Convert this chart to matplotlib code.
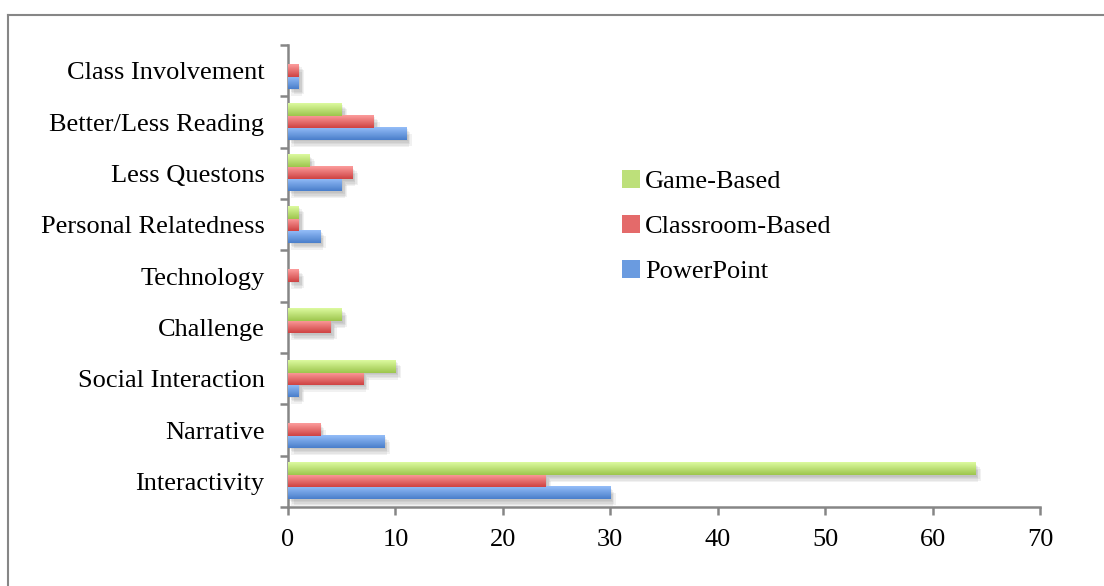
import matplotlib.pyplot as plt
import matplotlib.patheffects as pe
from matplotlib.lines import Line2D
from matplotlib.patches import Rectangle
from matplotlib.colors import to_rgb
import numpy as np

plt.rcParams['font.family'] = ['Liberation Serif', 'DejaVu Serif']

# categories listed bottom to top
categories = ["Interactivity", "Narrative", "Social Interaction", "Challenge",
              "Technology", "Personal Relatedness", "Less Questons",
              "Better/Less Reading", "Class Involvement"]
powerpoint = [30, 9, 1, 0, 0, 3, 5, 11, 1]
classroom = [24, 3, 7, 4, 1, 1, 6, 8, 1]
game = [64, 0, 10, 5, 0, 1, 2, 5, 0]

series = [
    ("PowerPoint", powerpoint, "#94bdf8", "#4a7fcb", "#6a9be0"),
    ("Classroom-Based", classroom, "#fc9c9c", "#cf4343", "#e46a6a"),
    ("Game-Based", game, "#dcfa9e", "#9dc64e", "#bde07a"),
]

fig = plt.figure(figsize=(11.04, 5.86), dpi=100)
ax = fig.add_axes([0.2609, 0.1348, 0.942 - 0.2609, 0.9232 - 0.1348])

bar_h = 0.235
y = np.arange(len(categories))
offsets = [-bar_h, 0, bar_h]

# soft drop shadow built from a few faint offset copies
shadow = [pe.SimplePatchShadow(offset=o, alpha=0.07, shadow_rgbFace='#444444')
          for o in [(1, -1), (2, -2), (3, -3), (4, -4), (2, -5)]]

proxies = []
for (name, vals, top, bot, mid), off in zip(series, offsets):
    ax.barh(y + off, vals, height=bar_h, color=mid, zorder=2,
            path_effects=shadow + [pe.Normal()])
    # vertical gradient on each bar: light on top, dark at bottom
    c0 = np.array(to_rgb(top))
    c1 = np.array(to_rgb(bot))
    t = np.linspace(0, 1, 24)[:, None]
    grad = (c0 * (1 - t) + c1 * t)[:, None, :]
    for yi, v in zip(y + off, vals):
        if v > 0:
            ax.imshow(grad, extent=[0, v, yi - bar_h / 2, yi + bar_h / 2],
                      aspect='auto', origin='upper', zorder=3,
                      interpolation='bilinear')
    proxies.append((Rectangle((0, 0), 1, 1, facecolor=mid, edgecolor='none'), name))

ax.set_xlim(0, 70)
ax.set_ylim(-0.5, len(categories) - 0.5)
ax.set_xticks(range(0, 71, 10))
ax.set_yticks(y)
ax.set_yticklabels(categories)
ax.set_yticks(np.arange(-0.5, len(categories)), minor=True)

grey = "#868686"
for s in ("top", "right"):
    ax.spines[s].set_visible(False)
for s in ("left", "bottom"):
    ax.spines[s].set_color(grey)
    ax.spines[s].set_linewidth(1.8)

ax.tick_params(axis='y', which='major', length=0, pad=17, labelsize=19)
ax.tick_params(axis='y', which='minor', length=6, width=1.8, color=grey)
ax.tick_params(axis='x', which='major', length=6, width=1.8, color=grey,
               pad=9.5, labelsize=19)

# legend, top entry first
ax.legend([p[0] for p in proxies[::-1]], [p[1] for p in proxies[::-1]],
          loc='center left', bbox_to_anchor=(0.444, 0.607),
          frameon=False, fontsize=19, borderpad=0, borderaxespad=0,
          handlelength=0.68, handleheight=0.68, handletextpad=0.2,
          labelspacing=0.82)

# outer chart frame
fig.add_artist(Line2D([0.0072, 0.0072], [0, 0.974], color=grey, lw=1.5,
                      transform=fig.transFigure))
fig.add_artist(Line2D([0.0072, 1.0], [0.974, 0.974], color=grey, lw=1.5,
                      transform=fig.transFigure))

fig.savefig("out.png", dpi=100)
